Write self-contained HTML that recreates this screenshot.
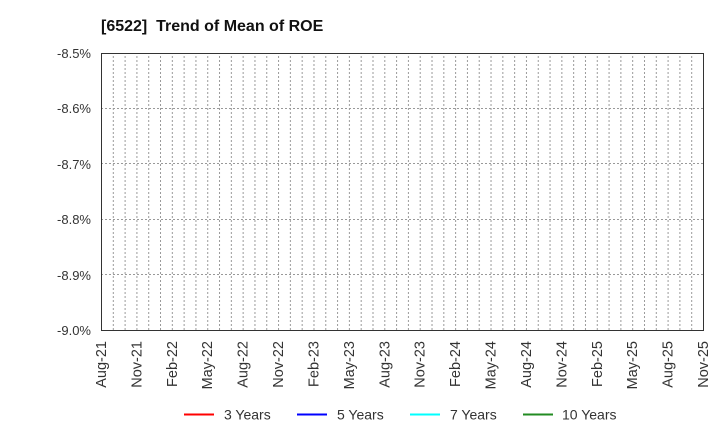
<!DOCTYPE html>
<html><head><meta charset="utf-8"><style>
html,body{margin:0;padding:0;background:#fff;}
svg{display:block;font-family:"Liberation Sans",Arial,sans-serif;}
</style></head><body>
<svg width="720" height="440" viewBox="0 0 720 440" xmlns="http://www.w3.org/2000/svg">
<defs>
<pattern id="vg" x="101" y="0" width="11.804" height="440" patternUnits="userSpaceOnUse">
<line x1="0.5" y1="0" x2="0.5" y2="440" stroke="#999" stroke-width="1" stroke-dasharray="2,2"/>
</pattern>
</defs>
<text x="101" y="31" font-size="16" font-weight="bold" fill="#111" xml:space="preserve">[6522]  Trend of Mean of ROE</text>
<rect x="101.5" y="53" width="602" height="277" fill="url(#vg)"/>
<g stroke="#999" stroke-width="1" stroke-dasharray="2,2">
<line x1="101" y1="108.5" x2="703" y2="108.5"/>
<line x1="101" y1="163.5" x2="703" y2="163.5"/>
<line x1="101" y1="219.5" x2="703" y2="219.5"/>
<line x1="101" y1="274.5" x2="703" y2="274.5"/>
</g>
<rect x="101.5" y="53.5" width="602" height="277" fill="none" stroke="#333" stroke-width="1"/>
<g font-size="13" fill="#333" text-anchor="end">
<text x="91" y="58">-8.5%</text>
<text x="91" y="113">-8.6%</text>
<text x="91" y="169">-8.7%</text>
<text x="91" y="224">-8.8%</text>
<text x="91" y="280">-8.9%</text>
<text x="91" y="335">-9.0%</text>
</g>
<g font-size="14.5" fill="#333" text-anchor="end">
<text transform="translate(106,341) rotate(-90)">Aug-21</text>
<text transform="translate(141.4,341) rotate(-90)">Nov-21</text>
<text transform="translate(176.8,341) rotate(-90)">Feb-22</text>
<text transform="translate(212.2,341) rotate(-90)">May-22</text>
<text transform="translate(247.6,341) rotate(-90)">Aug-22</text>
<text transform="translate(283.1,341) rotate(-90)">Nov-22</text>
<text transform="translate(318.5,341) rotate(-90)">Feb-23</text>
<text transform="translate(353.9,341) rotate(-90)">May-23</text>
<text transform="translate(389.3,341) rotate(-90)">Aug-23</text>
<text transform="translate(424.7,341) rotate(-90)">Nov-23</text>
<text transform="translate(460.1,341) rotate(-90)">Feb-24</text>
<text transform="translate(495.5,341) rotate(-90)">May-24</text>
<text transform="translate(531,341) rotate(-90)">Aug-24</text>
<text transform="translate(566.4,341) rotate(-90)">Nov-24</text>
<text transform="translate(601.8,341) rotate(-90)">Feb-25</text>
<text transform="translate(637.2,341) rotate(-90)">May-25</text>
<text transform="translate(672.6,341) rotate(-90)">Aug-25</text>
<text transform="translate(708,341) rotate(-90)">Nov-25</text>
</g>
<g stroke-width="2">
<line x1="184" y1="414.5" x2="214" y2="414.5" stroke="#ff0000"/>
<line x1="297" y1="414.5" x2="327" y2="414.5" stroke="#0000ff"/>
<line x1="410" y1="414.5" x2="440" y2="414.5" stroke="#00ffff"/>
<line x1="523" y1="414.5" x2="553" y2="414.5" stroke="#228b22"/>
</g>
<g font-size="14" fill="#333">
<text x="224" y="419.5">3 Years</text>
<text x="337" y="419.5">5 Years</text>
<text x="450" y="419.5">7 Years</text>
<text x="562" y="419.5">10 Years</text>
</g>
</svg>
</body></html>
